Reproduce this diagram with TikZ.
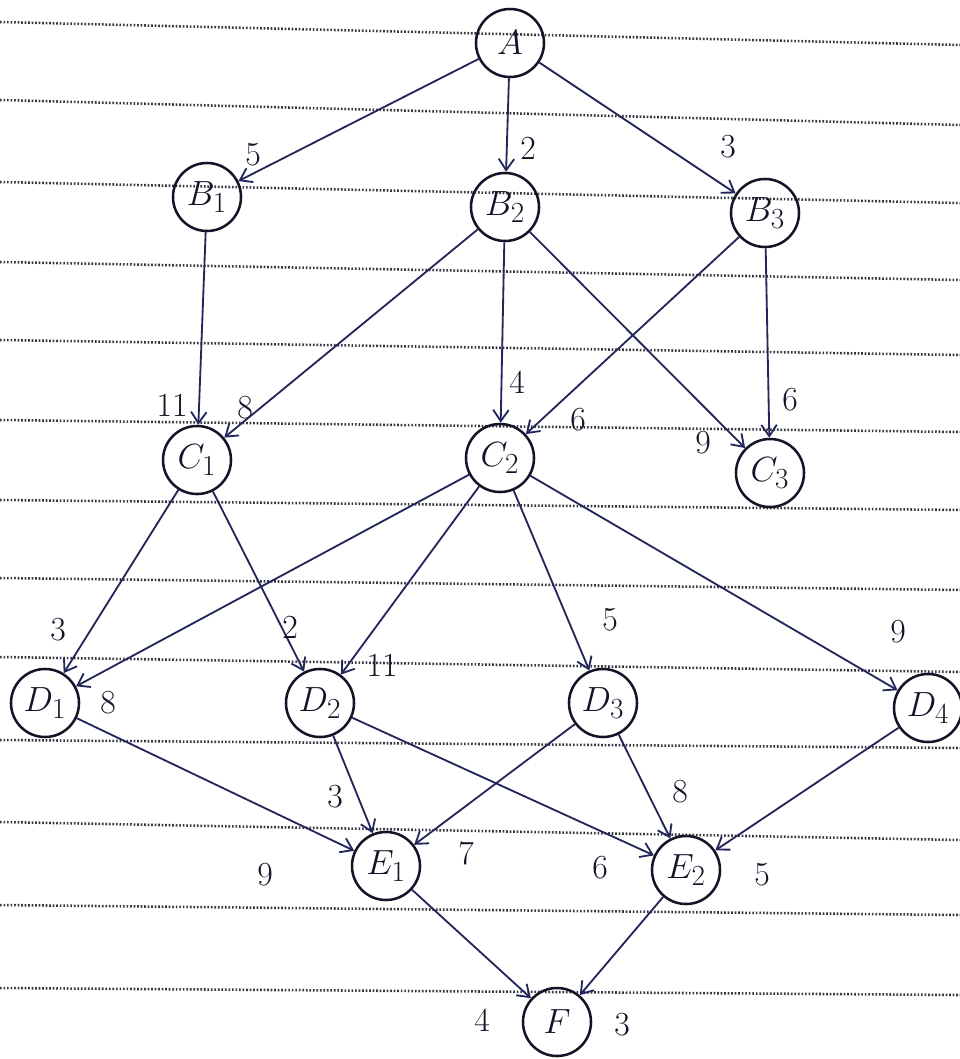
\documentclass[tikz,border=0pt]{standalone}
\usetikzlibrary{arrows.meta, positioning}
\definecolor{inkblue}{RGB}{35, 38, 90}
\definecolor{inkdark}{RGB}{20, 20, 40}
\definecolor{ruleline}{RGB}{55, 55, 65}
\tikzset{
  vtx/.style={circle, draw=inkdark, line width=1.8pt, minimum size=1.7cm, inner sep=0pt, text=inkdark, font=\fontsize{30}{32}\selectfont},
  wt/.style={font=\fontsize{24}{26}\selectfont, text=inkdark, inner sep=0pt},
  flow/.style={-{Straight Barb[length=8pt, width=11pt]}, line width=1.3pt, inkblue},
  ruling/.style={ruleline, line width=1.8pt, dash pattern=on 1.2pt off 1.3pt},
}
\begin{document}
\begin{tikzpicture}[x=0.025cm, y=-0.025cm]
  \useasboundingbox (0,0) rectangle (960,1059);
  % ruled paper
  \foreach \yl/\yr in {22/45, 100/125, 182/203, 262/280, 340/355, 420/432, 500/510, 578/590, 657/672, 740/748, 822/840, 905/915, 988/995}
    \draw[ruling] (0,\yl) -- (960,\yr);
  % vertices
  \node[vtx] (A) at (510,43) {$A$};
  \node[vtx] (B1) at (207,197) {$B_1$};
  \node[vtx] (B2) at (505,207) {$B_2$};
  \node[vtx] (B3) at (765,213) {$B_3$};
  \node[vtx] (C1) at (197,460) {$C_1$};
  \node[vtx] (C2) at (500,458) {$C_2$};
  \node[vtx] (C3) at (770,473) {$C_3$};
  \node[vtx] (D1) at (45,703) {$D_1$};
  \node[vtx] (D2) at (320,703) {$D_2$};
  \node[vtx] (D3) at (603,703) {$D_3$};
  \node[vtx] (D4) at (928,708) {$D_4$};
  \node[vtx] (E1) at (386,866) {$E_1$};
  \node[vtx] (E2) at (686,870) {$E_2$};
  \node[vtx] (F) at (557,1022) {$F$};
  % weighted arcs
  \draw[flow] (A) -- (B1) node[wt] at (253,155) {5};
  \draw[flow] (A) -- (B2) node[wt] at (528,148) {2};
  \draw[flow] (A) -- (B3) node[wt] at (728,147) {3};
  \draw[flow] (B1) -- (C1) node[wt] at (172,405) {11};
  \draw[flow] (B2) -- (C1) node[wt] at (245,408) {8};
  \draw[flow] (B2) -- (C2) node[wt] at (517,382) {4};
  \draw[flow] (B2) -- (C3) node[wt] at (703,443) {9};
  \draw[flow] (B3) -- (C2) node[wt] at (578,420) {6};
  \draw[flow] (B3) -- (C3) node[wt] at (790,400) {6};
  \draw[flow] (C1) -- (D1) node[wt] at (58,630) {3};
  \draw[flow] (C2) -- (D1) node[wt] at (108,703) {8};
  \draw[flow] (C1) -- (D2) node[wt] at (290,627) {2};
  \draw[flow] (C2) -- (D2) node[wt] at (382,665) {11};
  \draw[flow] (C2) -- (D3) node[wt] at (610,620) {5};
  \draw[flow] (C2) -- (D4) node[wt] at (898,632) {9};
  \draw[flow] (D1) -- (E1) node[wt] at (265,875) {9};
  \draw[flow] (D2) -- (E1) node[wt] at (335,797) {3};
  \draw[flow] (D3) -- (E1) node[wt] at (466,853) {7};
  \draw[flow] (D2) -- (E2) node[wt] at (600,868) {6};
  \draw[flow] (D3) -- (E2) node[wt] at (680,792) {8};
  \draw[flow] (D4) -- (E2) node[wt] at (762,875) {5};
  \draw[flow] (E1) -- (F) node[wt] at (482,1020) {4};
  \draw[flow] (E2) -- (F) node[wt] at (622,1025) {3};
\end{tikzpicture}
\end{document}
